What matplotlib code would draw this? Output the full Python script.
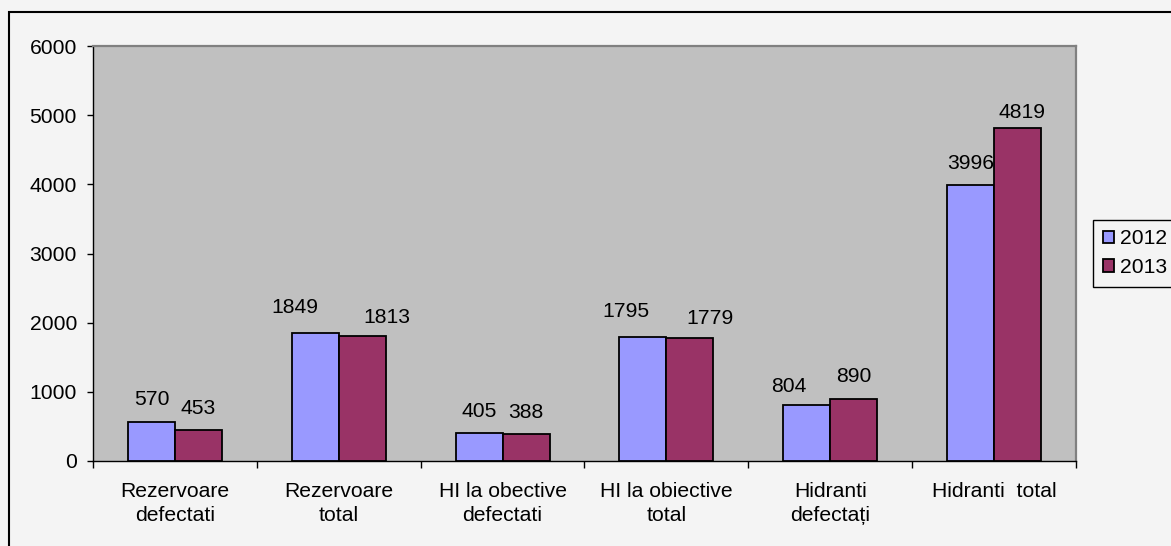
import matplotlib
matplotlib.use("Agg")
import matplotlib.pyplot as plt
import numpy as np
from matplotlib.patches import Rectangle
from matplotlib.ticker import FixedLocator

plt.rcParams['font.family'] = ['Liberation Sans', 'DejaVu Sans']

categories = ["Rezervoare\ndefectati", "Rezervoare\ntotal", "HI la obective\ndefectati",
              "HI la obiective\ntotal", "Hidranti\ndefectați", "Hidranti  total"]
series_names = ["2012", "2013"]
values_2012 = [570, 1849, 405, 1795, 804, 3996]
values_2013 = [453, 1813, 388, 1779, 890, 4819]
y_ticks = [0, 1000, 2000, 3000, 4000, 5000, 6000]

# label offsets in pixels (dx, dy to baseline) mimicking the original placement
offs_2012 = [(0, 17), (-20, 20), (0, 16), (-17, 20), (-18, 13), (0, 16)]
offs_2013 = [(0, 16), (25, 13), (0, 16), (20, 14), (0, 17), (4, 10)]

W, H = 1171, 546
fig = plt.figure(figsize=(W / 100, H / 100), dpi=100)
fig.patch.set_facecolor('#F4F4F4')

ax = fig.add_axes([93 / W, 1 - 461 / H, (1076 - 93) / W, (461 - 46) / H])
ax.set_facecolor('#C0C0C0')

x = np.arange(len(categories))
bw = 0.287
c12 = '#9999FF'
c13 = '#993366'
ax.bar(x - bw / 2, values_2012, bw, color=c12, edgecolor='black', linewidth=1.3, label=series_names[0], zorder=3)
ax.bar(x + bw / 2, values_2013, bw, color=c13, edgecolor='black', linewidth=1.3, label=series_names[1], zorder=3)

fs = 15.2
for xi, v, (dx, dy) in zip(x - bw / 2, values_2012, offs_2012):
    ax.annotate(str(v), (xi, v), xytext=(dx, dy), textcoords='offset pixels',
                ha='center', va='baseline', fontsize=fs, color='black')
for xi, v, (dx, dy) in zip(x + bw / 2, values_2013, offs_2013):
    ax.annotate(str(v), (xi, v), xytext=(dx, dy), textcoords='offset pixels',
                ha='center', va='baseline', fontsize=fs, color='black')

ax.set_xlim(-0.5, len(categories) - 0.5)
ax.set_ylim(0, 6000)
ax.set_yticks(y_ticks)
ax.set_yticklabels([str(t) for t in y_ticks], fontsize=fs)
ax.tick_params(axis='y', direction='out', length=4.5, width=1, pad=7, colors='black')

ax.set_xticks(x)
ax.set_xticklabels(categories, fontsize=fs, linespacing=1.35)
ax.tick_params(axis='x', which='major', length=0, pad=15)
ax.xaxis.set_minor_locator(FixedLocator(np.arange(-0.5, len(categories), 1.0)))
ax.tick_params(axis='x', which='minor', direction='out', length=5, width=1, colors='black')

for s in ['left', 'bottom']:
    ax.spines[s].set_color('black')
    ax.spines[s].set_linewidth(1.0)
for s in ['top', 'right']:
    ax.spines[s].set_color('#808080')
    ax.spines[s].set_linewidth(1.6)

leg = ax.legend(loc='upper left', bbox_to_anchor=(1093 / W, 1 - 220 / H),
                bbox_transform=fig.transFigure, fontsize=fs, frameon=True,
                fancybox=False, edgecolor='black', facecolor='#F4F4F4',
                handlelength=0.55, handleheight=0.55, handletextpad=0.3,
                borderpad=0.45, labelspacing=0.45, borderaxespad=0)
leg.get_frame().set_linewidth(1.0)
leg.get_frame().set_alpha(1)

# figure border (left and top visible)
fig.patches.append(Rectangle((8.5 / W, -0.1), 1.2, 1.1 - 12.5 / H, transform=fig.transFigure,
                             fill=False, edgecolor='black', linewidth=1.5, zorder=10))

fig.savefig('out.png', dpi=100, facecolor=fig.get_facecolor())
